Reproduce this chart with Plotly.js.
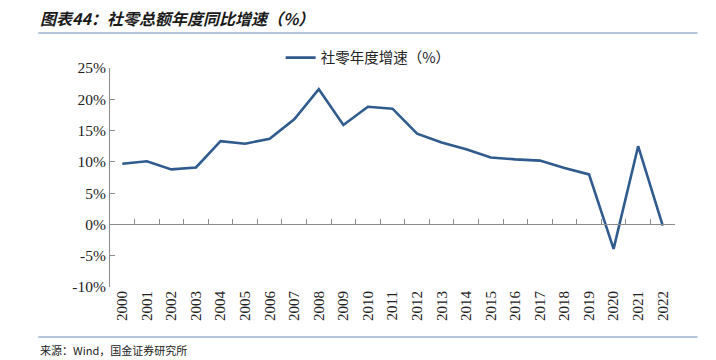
<!DOCTYPE html>
<html>
<head>
<meta charset="utf-8">
<script src="https://cdn.plot.ly/plotly-3.0.1.min.js"></script>
<style>
html,body{margin:0;padding:0;background:#fff;}
#chart{width:716px;height:360px;}
</style>
</head>
<body>
<div id="chart"></div>
<script>
var years = ['2000','2001','2002','2003','2004','2005','2006','2007','2008','2009','2010','2011','2012','2013','2014','2015','2016','2017','2018','2019','2020','2021','2022'];
var growth = [9.7,10.1,8.8,9.1,13.3,12.9,13.7,16.8,21.6,15.9,18.8,18.5,14.5,13.1,12.0,10.7,10.4,10.2,9.0,8.0,-3.9,12.5,-0.2];
var yTicks = [-10,-5,0,5,10,15,20,25];
var yTickText = ['-10%','-5%','0%','5%','10%','15%','20%','25%'];
var seriesName = '社零年度增速（%）';
var titleText = '图表44：社零总额年度同比增速（%）';
var sourceText = '来源：Wind，国金证券研究所';

var yMin = -10, yMax = 25;
var domY = [0, 1];
var zeroPos = domY[0] + (0 - yMin) / (yMax - yMin) * (domY[1] - domY[0]);

var lineColor = '#2f5b8e';

var traces = [
  {x: years, y: growth, type: 'scatter', mode: 'lines', name: seriesName,
   line: {color: lineColor, width: 2.6}, xaxis: 'x2', yaxis: 'y', showlegend: true},
  {x: years, y: growth, type: 'scatter', mode: 'lines', name: '',
   line: {color: 'rgba(0,0,0,0)', width: 0}, xaxis: 'x', yaxis: 'y', showlegend: false, hoverinfo: 'skip'}
];

var layout = {
  width: 716, height: 360,
  margin: {l: 110, r: 41, t: 68, b: 73},
  paper_bgcolor: '#fff', plot_bgcolor: '#fff',
  showlegend: true,
  legend: {x: 0.302, y: 1.12, xanchor: 'left', yanchor: 'top', orientation: 'h',
    font: {family: '"Noto Sans CJK SC", sans-serif', size: 14.5, color: '#222'},
    bgcolor: 'rgba(0,0,0,0)'},
  xaxis: {type: 'category', range: [-0.5, years.length - 0.5], showline: false, showgrid: false,
    zeroline: false, ticks: '', tickangle: -90,
    tickfont: {family: '"Liberation Serif", "Times New Roman", serif', size: 15, color: '#222'},
    domain: [0, 1], anchor: 'y', fixedrange: true},
  xaxis2: {type: 'category', overlaying: 'x', anchor: 'free', position: zeroPos,
    range: [-0.5, years.length - 0.5], showline: true, linecolor: '#8c8c8c', linewidth: 1,
    ticks: 'inside', ticklen: 5, tickcolor: '#8c8c8c', tickson: 'boundaries',
    showticklabels: false, showgrid: false, zeroline: false, fixedrange: true},
  yaxis: {range: [yMin, yMax], tickmode: 'array', tickvals: yTicks, ticktext: yTickText,
    showgrid: false, zeroline: false,
    showline: true, linecolor: '#8c8c8c', linewidth: 1, ticks: 'inside', ticklen: 5, tickcolor: '#8c8c8c',
    tickfont: {family: '"Liberation Serif", "Times New Roman", serif', size: 15.5, color: '#222'},
    domain: domY, fixedrange: true},
  annotations: [
    {xref: 'paper', yref: 'paper', x: -0.127, y: 1.228, xanchor: 'left', yanchor: 'middle',
     text: '<b><i>' + titleText + '</i></b>', showarrow: false,
     font: {family: '"Noto Sans CJK SC", sans-serif', size: 16, color: '#1a1a1a'}},
    {xref: 'paper', yref: 'paper', x: -0.127, y: -0.288, xanchor: 'left', yanchor: 'middle',
     text: sourceText, showarrow: false,
     font: {family: '"Noto Sans CJK SC", sans-serif', size: 11, color: '#222'}}
  ],
  shapes: [
    {type: 'line', xref: 'paper', yref: 'paper', x0: -0.127, x1: 1.04, y0: 1.16, y1: 1.16,
     line: {color: '#9cb4c8', width: 1.5}},
    {type: 'line', xref: 'paper', yref: 'paper', x0: -0.127, x1: 1.04, y0: -0.228, y1: -0.228,
     line: {color: '#9cb4c8', width: 1.5}}
  ]
};

Plotly.newPlot('chart', traces, layout, {displayModeBar: false, staticPlot: true});
</script>
</body>
</html>
